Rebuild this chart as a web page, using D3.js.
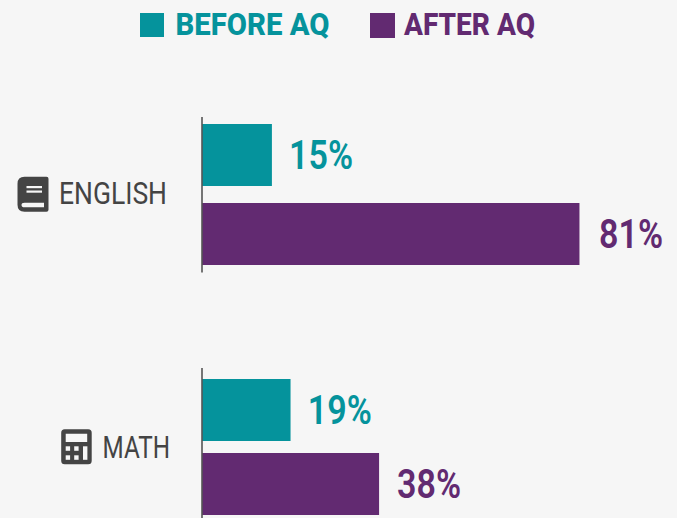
<!DOCTYPE html>
<html>
<head>
<meta charset="utf-8">
<script src="https://cdn.jsdelivr.net/npm/d3@7"></script>
<style>
html, body { margin: 0; padding: 0; background: #f6f6f6; overflow: hidden; }
text { font-family: Roboto, sans-serif; }
</style>
</head>
<body>
<svg id="chart" width="677" height="518"></svg>
<script>
const subjects = ['ENGLISH', 'MATH'];
const seriesNames = ['BEFORE AQ', 'AFTER AQ'];
const beforeValues = [15, 19];
const afterValues = [81, 38];

const teal = '#05939c';
const purple = '#622a71';
const ink = '#444444';
const paper = '#f6f6f6';

let svg = d3.select('#chart');
let color = d3.scaleOrdinal().domain(seriesNames).range([teal, purple]);

// bars are not evenly spaced in the original, so the y scale is ordinal
let x = d3.scaleLinear().domain([0, 100]).range([202, 668]);
let labelX = d3.scaleLinear().domain([0, 100]).range([218.6, 688.3]);
let y = d3.scaleOrdinal()
    .domain(['ENGLISH|BEFORE AQ', 'ENGLISH|AFTER AQ', 'MATH|BEFORE AQ', 'MATH|AFTER AQ'])
    .range([124, 203, 379, 453]);
let barHeight = 62;

let rows = [];
subjects.forEach(function(s, i) {
    rows.push({subject: s, series: seriesNames[0], value: beforeValues[i]});
    rows.push({subject: s, series: seriesNames[1], value: afterValues[i]});
});

// legend
let legendSpec = [
    {x: 140, size: 24, textX: 175.5, textW: 154},
    {x: 370, size: 25, textX: 404, textW: 131},
];
seriesNames.forEach(function(name, i) {
    let l = legendSpec[i];
    svg.append('rect')
        .attr('x', l.x).attr('y', 13)
        .attr('width', l.size).attr('height', l.size)
        .attr('fill', color(name));
    svg.append('text')
        .attr('x', l.textX).attr('y', 34.5)
        .attr('textLength', l.textW)
        .attr('lengthAdjust', 'spacingAndGlyphs')
        .style('font-size', '30.5px')
        .style('font-weight', 800)
        .attr('fill', color(name))
        .text(name);
});

// bars
svg.selectAll('.bar')
    .data(rows)
    .enter().append('rect')
    .attr('class', 'bar')
    .attr('x', x(0))
    .attr('y', function(d) { return y(d.subject + '|' + d.series); })
    .attr('width', function(d) { return x(d.value) - x(0); })
    .attr('height', barHeight)
    .attr('fill', function(d) { return color(d.series); });

// value labels
svg.selectAll('.value')
    .data(rows)
    .enter().append('text')
    .attr('class', 'value')
    .attr('x', function(d) { return labelX(d.value); })
    .attr('y', function(d) { return y(d.subject + '|' + d.series) + barHeight / 2 + 14; })
    .attr('textLength', 64)
    .attr('lengthAdjust', 'spacingAndGlyphs')
    .style('font-size', '41px')
    .style('font-weight', 600)
    .attr('fill', function(d) { return color(d.series); })
    .text(function(d) { return d.value + '%'; });

// axis stubs
let axisSpans = [[117, 272.5], [368, 518]];
axisSpans.forEach(function(span) {
    svg.append('line')
        .attr('x1', x(0)).attr('x2', x(0))
        .attr('y1', span[0]).attr('y2', span[1])
        .attr('stroke', '#555555')
        .attr('stroke-width', 1.6);
});

// subject labels
let labelSpec = [
    {x: 59, y: 204, w: 108},
    {x: 102.5, y: 457.5, w: 67.5},
];
subjects.forEach(function(s, i) {
    svg.append('text')
        .attr('x', labelSpec[i].x).attr('y', labelSpec[i].y)
        .attr('textLength', labelSpec[i].w)
        .attr('lengthAdjust', 'spacingAndGlyphs')
        .style('font-size', '31.5px')
        .attr('fill', ink)
        .text(s);
});

// book icon
let book = svg.append('g').attr('transform', 'translate(17.5,176.7)');
book.append('path')
    .attr('fill-rule', 'evenodd')
    .attr('fill', ink)
    .attr('d', 'M7 0H29Q31 0 31 2V33Q31 35 29 35H7Q0 35 0 28V7Q0 0 7 0Z' +
        'M7 26Q4 26 4 28.2Q4 30.5 7 30.5H26.5V26Z');
book.append('rect').attr('x', 9).attr('y', 9.3).attr('width', 15.5).attr('height', 2.2).attr('fill', paper);
book.append('rect').attr('x', 9).attr('y', 13.8).attr('width', 15.5).attr('height', 2.2).attr('fill', paper);

// calculator icon
let calc = svg.append('g').attr('transform', 'translate(61.2,429.3)');
calc.append('path')
    .attr('fill-rule', 'evenodd')
    .attr('fill', ink)
    .attr('d', 'M3.5 0H27Q30.5 0 30.5 3.5V31.5Q30.5 35 27 35H3.5Q0 35 0 31.5V3.5Q0 0 3.5 0Z' +
        'M4.5 4.5V12.7H26V4.5Z');
let keyCols = [4.5, 13, 21.8];
let keyRows = [17, 26];
keyRows.forEach(function(ky, r) {
    keyCols.forEach(function(kx, c) {
        // the last column is one tall key
        if (c === 2 && r === 1) return;
        calc.append('rect')
            .attr('x', kx).attr('y', ky)
            .attr('width', 4.4)
            .attr('height', c === 2 ? 13.5 : 4.5)
            .attr('fill', paper);
    });
});
</script>
</body>
</html>
